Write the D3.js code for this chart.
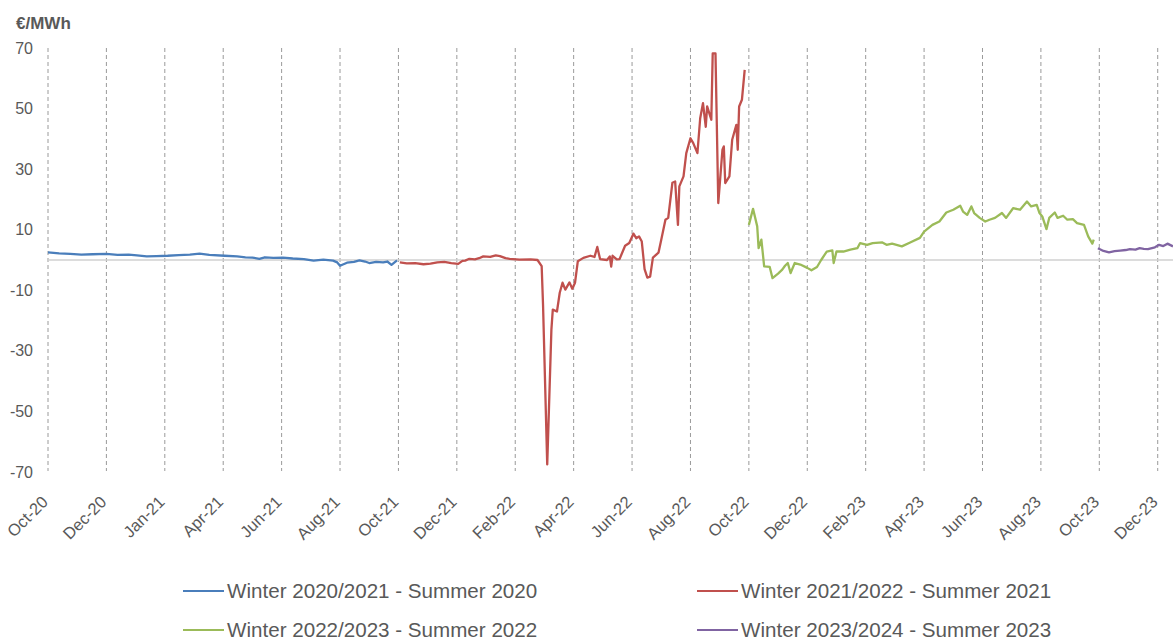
<!DOCTYPE html>
<html>
<head>
<meta charset="utf-8">
<script src="https://cdn.jsdelivr.net/npm/d3@7"></script>
<style>
  html, body { margin: 0; padding: 0; background: #ffffff; }
  svg { display: block; font-family: "Liberation Sans", Arial, sans-serif; }
</style>
</head>
<body>
<svg id="chart" width="1173" height="642"></svg>
<script>
// Seasonal spread, €/MWh, indexed by trading day (tick label every 42 days)
const tickLabels = ["Oct-20","Dec-20","Jan-21","Apr-21","Jun-21","Aug-21","Oct-21","Dec-21",
  "Feb-22","Apr-22","Jun-22","Aug-22","Oct-22","Dec-22","Feb-23","Apr-23","Jun-23","Aug-23",
  "Oct-23","Dec-23"];
const tickStep = 42;
const yTicks = [-70, -50, -30, -10, 10, 30, 50, 70];

const seriesNames = [
  "Winter 2020/2021 - Summer 2020",
  "Winter 2021/2022 - Summer 2021",
  "Winter 2022/2023 - Summer 2022",
  "Winter 2023/2024 - Summer 2023"
];
const seriesColors = ["#4a7ebb", "#c0504d", "#9bbb59", "#8064a2"];

const w2021Days = [0,8,16,24,32,42,50,58,64,71,78,86,94,102,109,116,127,136,142,147,152,156,162,169,
  176,184,191,198,205,208,210,215,220,224,228,231,236,241,244,247,251];
const w2021Vals = [2.5,2.2,2.0,1.8,1.9,2.0,1.7,1.8,1.5,1.2,1.3,1.4,1.6,1.8,2.1,1.7,1.4,1.2,0.9,0.8,0.4,0.9,0.7,0.8,
  0.5,0.3,-0.2,0.1,-0.2,-0.8,-1.9,-0.9,-0.6,-0.1,-0.5,-1.0,-0.6,-0.8,-0.5,-1.6,-0.1];

const w2122Days = [253,258,264,270,275,280,285,290,295,298,300,303,307,310,313,318,322,325,329,332,339,347,352,
  355,356,359,362,363,366,368,370,372,375,377,379,381,385,390,393,395,397,402,404,405,406,409,411,415,418,421,
  423,425,427,429,431,433,435,439,441,444,446,449,451,453,454,457,459,462,464,467,469,471,473,474,477,478,480,
  482,485,486,487,490,492,495,496,497,499,501];
const w2122Vals = [-0.8,-1.1,-1.0,-1.4,-1.2,-0.8,-0.6,-1.0,-1.3,-0.3,-0.2,0.4,0.2,0.6,1.2,1.0,1.5,1.3,0.6,0.4,0.1,0.2,0.0,
  -2.0,-15,-67.5,-23,-16.4,-17,-10.8,-7.5,-9.8,-7.4,-9.5,-7.5,-0.4,0.7,1.4,1.0,4.3,0.3,0,1.2,-2.2,1.4,0.2,0.3,4.7,5.6,8.7,
  7.2,7.8,6.1,-3,-5.8,-5.5,0.8,2.4,6.7,13.3,13.9,25.5,25.9,11.6,24.3,27.6,35.3,40.2,38.6,35.3,46.8,51.8,44,50.7,46.3,68.2,68.2,
  18.8,36.4,37.5,25.4,27.6,39.7,44.6,36.4,50.7,52.9,62.8];

const w2223Days = [504,507,510,511,513,515,519,521,525,528,530,532,534,537,541,546,549,553,556,560,564,565,567,572,
  577,582,584,589,593,600,603,607,614,620,627,630,636,641,646,651,656,658,661,664,666,670,674,677,681,686,689,694,
  699,704,707,711,713,715,718,720,724,726,730,733,737,740,745,748,751,752];
const w2223Vals = [11.6,16.9,11.1,3.9,6.7,-2.1,-2.3,-6,-4.5,-3.2,-1.9,-1,-4.3,-1,-1.5,-2.6,-3.4,-2.3,0,2.8,3.2,-1,2.8,2.8,
  3.4,3.9,5.6,5,5.6,5.8,5,5.4,4.5,5.8,7.3,9.4,11.6,12.7,15.7,16.6,17.9,16,14.9,17.7,15.5,13.9,12.7,13.3,13.9,15.5,13.9,17.1,
  16.6,19.3,17.7,18.2,15.5,14.4,10.2,13.9,15.7,13.9,14.6,13.3,13.5,12.2,11.6,7.8,5.4,6.7];

const w2324Days = [755,759,763,767,771,775,778,782,785,788,791,796,799,802,805,809];
const w2324Vals = [3.9,3.0,2.5,2.9,3.1,3.3,3.6,3.4,3.9,3.7,3.6,4.2,5.0,4.6,5.4,4.5];

const seriesDays = [w2021Days, w2122Days, w2223Days, w2324Days];
const seriesVals = [w2021Vals, w2122Vals, w2223Vals, w2324Vals];

const svg = d3.select("#chart");
const textColor = "#595959";

const x = d3.scaleLinear().domain([0, 809]).range([48, 1173]);
const y = d3.scaleLinear().domain([-70, 70]).range([472, 48]);

// vertical dashed gridlines at each labelled date
const tickDays = tickLabels.map((_, i) => i * tickStep);
svg.append("g")
  .selectAll("line")
  .data(tickDays)
  .join("line")
  .attr("x1", d => x(d)).attr("x2", d => x(d))
  .attr("y1", 48).attr("y2", 471)
  .attr("stroke", "#9a9a9a")
  .attr("stroke-width", 1)
  .attr("stroke-dasharray", "4,3");

// zero line
svg.append("line")
  .attr("x1", x(0)).attr("x2", 1173)
  .attr("y1", y(0)).attr("y2", y(0))
  .attr("stroke", "#d0d0d0")
  .attr("stroke-width", 1.6);

// y axis labels (plain hyphen for negatives)
const yAxis = d3.axisLeft(y).tickValues(yTicks).tickFormat(d => String(d))
  .tickSize(0).tickPadding(0);
const yg = svg.append("g").attr("transform", "translate(33,0)").call(yAxis);
yg.select(".domain").remove();
yg.selectAll("text")
  .attr("fill", textColor)
  .attr("font-size", "16px")
  .attr("font-family", "'Liberation Sans', Arial, sans-serif");

// x axis labels, rotated
const xAxis = d3.axisBottom(x).tickValues(tickDays)
  .tickFormat((d, i) => tickLabels[i]).tickSize(0).tickPadding(0);
const xg = svg.append("g").call(xAxis);
xg.select(".domain").remove();
xg.selectAll(".tick")
  .attr("transform", d => `translate(${x(d) + 1},503)`);
xg.selectAll("text")
  .attr("fill", textColor)
  .attr("font-size", "16.5px")
  .attr("font-family", "'Liberation Sans', Arial, sans-serif")
  .attr("text-anchor", "end")
  .attr("dy", 0)
  .attr("y", 0)
  .attr("transform", "rotate(-45)");

// unit label
svg.append("text")
  .attr("x", 16).attr("y", 29)
  .attr("fill", textColor)
  .attr("font-size", "17px")
  .attr("font-weight", "bold")
  .text("€/MWh");

// series lines
const line = d3.line()
  .x(d => x(d[0]))
  .y(d => y(d[1]));

seriesDays.forEach((days, i) => {
  const pts = days.map((d, j) => [d, seriesVals[i][j]]);
  svg.append("path")
    .datum(pts)
    .attr("fill", "none")
    .attr("stroke", seriesColors[i])
    .attr("stroke-width", 2.3)
    .attr("stroke-linejoin", "round")
    .attr("d", line);
});

// legend: two rows, two columns
const legendPos = [[183, 591], [697, 591], [183, 630], [697, 630]];
const lg = svg.append("g");
seriesNames.forEach((name, k) => {
  const [lx, ly] = legendPos[k];
  lg.append("line")
    .attr("x1", lx).attr("x2", lx + 41)
    .attr("y1", ly).attr("y2", ly)
    .attr("stroke", seriesColors[k])
    .attr("stroke-width", 2);
  lg.append("text")
    .attr("x", lx + 44).attr("y", ly + 7)
    .attr("fill", textColor)
    .attr("font-size", "20.6px")
    .text(name);
});
</script>
</body>
</html>
